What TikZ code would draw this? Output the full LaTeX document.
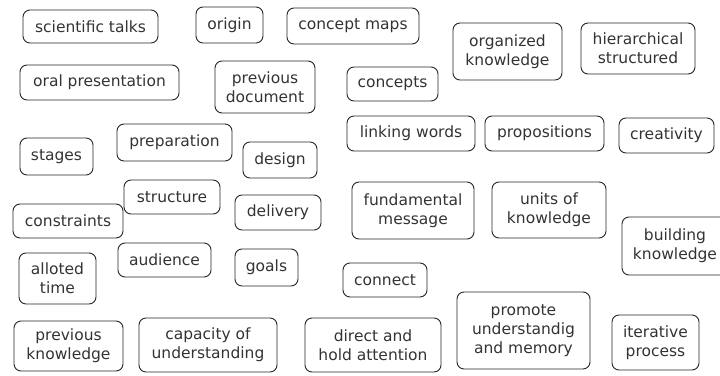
\documentclass[tikz,border=0pt]{standalone}
\usepackage{fontspec}
\setmainfont{DejaVu Sans}

\begin{document}
\begin{tikzpicture}[x=1pt, y=-1pt]

\tikzset{conceptbox/.style={draw=black!85, text=black!80, rounded corners=7pt, align=center, inner sep=2pt, line width=0.9pt, font=\fontsize{15.5}{19}\selectfont}}
\tikzset{boxsize/.style 2 args={minimum width=#1pt, minimum height=#2pt}}

\useasboundingbox (0, 0) rectangle (720, 375);

% top rows
\node[conceptbox, boxsize={135}{33}] at ( 90.5,  26.5) (talks) {scientific talks};
\node[conceptbox, boxsize={67}{36}] at (229.5,  25) (origin) {origin};
\node[conceptbox, boxsize={132}{36}] at (353,  26) (maps) {concept maps};
\node[conceptbox, boxsize={109}{57}] at (507.5,  51.5) (organized) {organized\\knowledge};
\node[conceptbox, boxsize={114}{51}] at (638,  48.5) (hierarchical) {hierarchical\\structured};
\node[conceptbox, boxsize={159}{35}] at ( 99.5,  82.5) (oral) {oral presentation};
\node[conceptbox, boxsize={100}{52}] at (265,  87) (prevdoc) {previous\\document};
\node[conceptbox, boxsize={91}{34}] at (392.5,  84) (concepts) {concepts};

% middle rows
\node[conceptbox, boxsize={128}{35}] at (411, 133.5) (linking) {linking words};
\node[conceptbox, boxsize={119}{35}] at (544.5, 133.5) (propositions) {propositions};
\node[conceptbox, boxsize={95}{35}] at (666.5, 135.5) (creativity) {creativity};
\node[conceptbox, boxsize={73}{37}] at ( 56.5, 156.5) (stages) {stages};
\node[conceptbox, boxsize={115}{37}] at (174.5, 142.5) (preparation) {preparation};
\node[conceptbox, boxsize={74}{36}] at (280, 160) (design) {design};
\node[conceptbox, boxsize={96}{34}] at (172, 197) (structure) {structure};
\node[conceptbox, boxsize={110}{34}] at ( 68, 221) (constraints) {constraints};
\node[conceptbox, boxsize={86}{35}] at (278, 212.5) (delivery) {delivery};
\node[conceptbox, boxsize={122}{57}] at (413, 210.5) (fundamental) {fundamental\\message};
\node[conceptbox, boxsize={114}{56}] at (549, 210) (units) {units of\\knowledge};
\node[conceptbox, boxsize={106}{58}] at (675, 246) (building) {building\\knowledge};
\node[conceptbox, boxsize={77}{51}] at ( 57.5, 278.5) (alloted) {alloted\\time};
\node[conceptbox, boxsize={93}{34}] at (164.5, 260) (audience) {audience};
\node[conceptbox, boxsize={63}{37}] at (266.5, 267.5) (goals) {goals};
\node[conceptbox, boxsize={84}{34}] at (385, 280) (connect) {connect};

% bottom row
\node[conceptbox, boxsize={109}{50}] at ( 68.5, 346) (prevknow) {previous\\knowledge};
\node[conceptbox, boxsize={138}{54}] at (208, 345) (capacity) {capacity of\\understanding};
\node[conceptbox, boxsize={136}{54}] at (373, 345) (direct) {direct and\\hold attention};
\node[conceptbox, boxsize={133}{77}] at (523.5, 330.5) (promote) {promote\\understandig\\and memory};
\node[conceptbox, boxsize={87}{55}] at (655.5, 342.5) (iterative) {iterative\\process};

\end{tikzpicture}
\end{document}
